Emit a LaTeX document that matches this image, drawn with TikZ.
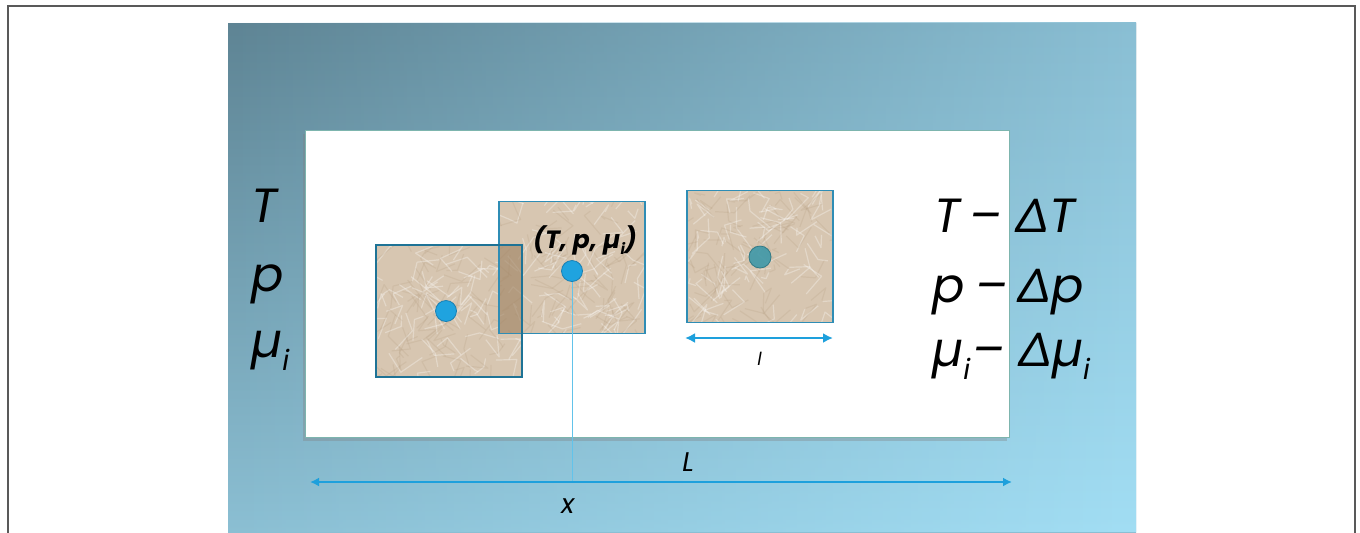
\documentclass[tikz,border=0pt]{standalone}
\usepackage{fontspec}
\setmainfont{Poppins}
\usetikzlibrary{arrows.meta,shadows,fadings}
\definecolor{paneltl}{HTML}{5E8494}
\definecolor{panelbl}{HTML}{8BBFD3}
\definecolor{paneltr}{HTML}{8ABFD4}
\definecolor{panelbr}{HTML}{A2DEF4}
\definecolor{paper}{HTML}{D7C6B1}
\definecolor{paperdark}{HTML}{9C7F5E}
\definecolor{edge}{HTML}{1E7396}
\definecolor{edgelight}{HTML}{2F8DB5}
\definecolor{dotblue}{HTML}{1FA3DF}
\definecolor{dotedge}{HTML}{1A7FB2}
\definecolor{dotteal}{HTML}{3F98A8}
\definecolor{arrowblue}{HTML}{1EA0DC}
\definecolor{thinblue}{HTML}{62C3EA}
\definecolor{stageedge}{HTML}{7DB5AE}
\newcommand\mysub[1]{\raisebox{-0.28em}{\fontsize{14}{14}\selectfont #1}}
\newcommand\crumple[1]{%
  \begin{scope}
    \clip (#1.south west) rectangle (#1.north east);
    \foreach \k in {1,...,70}{%
      \pgfmathsetmacro\ax{rnd*150}%
      \pgfmathsetmacro\ay{rnd*136}%
      \pgfmathsetmacro\bx{rand*22}%
      \pgfmathsetmacro\by{rand*22}%
      \pgfmathsetmacro\cx{rand*22}%
      \pgfmathsetmacro\cy{rand*22}%
      \draw[white,opacity=.3,line width=0.6pt,line join=round] ([shift={(\ax,\ay)}]#1.north west) -- ++(\bx,\by) -- ++(\cx,\cy);
      \draw[paperdark,opacity=.12,line width=0.6pt,line join=round] ([shift={(\ay,\ax)}]#1.north west) -- ++(\by,\bx) -- ++(\cy,\cx);
    }
  \end{scope}}
\begin{document}
\begin{tikzpicture}[x=0.5pt,y=-0.5pt,
  sqbox/.style={minimum width=73pt,minimum height=66pt,inner sep=0pt,outer sep=0pt},
  dotstyle/.style={circle,fill=dotblue,draw=dotedge,line width=0.4pt,minimum size=10.5pt,inner sep=0pt},
  bigtxt/.style={font=\fontsize{24}{30}\selectfont\itshape,inner sep=0pt,anchor=base west},
  smalltxt/.style={inner sep=0pt,anchor=base west},
  dim/.style={draw=arrowblue,line width=1.1pt,{Latex[length=4.5pt,width=4.5pt]}-{Latex[length=4.5pt,width=4.5pt]}}
]
\pgfmathsetseed{11}
\clip (0,0) rectangle (1360,532);
\fill[white] (0,0) rectangle (1360,532);
\draw[gray!70!black,line width=0.8pt] (8,6) rectangle (1355,560);
\shade[top color=paneltl,bottom color=panelbl] (228,23) rectangle (1136,532);
\shade[top color=paneltr,bottom color=panelbr,path fading=west] (228,23) rectangle (1136,532);
% stage
\node[draw=stageedge,line width=0.4pt,fill=white,minimum width=352pt,minimum height=153.5pt,inner sep=0pt,
  drop shadow={shadow xshift=-1.2pt,shadow yshift=-2pt,opacity=.35}] (stage) at (657,283.5) {};
% squares
\node[sqbox,fill=paper] (lsq) at (449,311) {};
\crumple{lsq}
\node[sqbox,fill=paper] (msq) at (572,267.5) {};
\crumple{msq}
\fill[paperdark,opacity=.6] (msq.west |- lsq.north) rectangle (lsq.east |- msq.south);
\node[sqbox,fill=paper] (rsq) at (760,256.5) {};
\crumple{rsq}
\draw[edgelight,line width=0.8pt] (msq.south west) rectangle (msq.north east);
\draw[edge,line width=1.3pt] (lsq.south west) rectangle (lsq.north east);
\draw[edgelight,line width=0.8pt] (rsq.south west) rectangle (rsq.north east);
% dots
\node[dotstyle] (ldot) at (446,311) {};
\node[dotstyle] (mdot) at (572,271) {};
\node[dotstyle,fill=dotteal,fill opacity=.9,draw=dotteal!80!black,minimum size=11pt] (rdot) at (760,257) {};
% label in middle square
\node[inner sep=0pt,anchor=base,font=\fontsize{12.5}{14}\selectfont\bfseries\itshape] (tpm) at (585,248) {(T, p, µ\raisebox{-0.25em}{\fontsize{7.5}{8}\selectfont i})};
% dimension arrows
\coordinate (Lw) at (310,482);
\coordinate (Le) at (1012,482);
\draw[thinblue,line width=0.5pt] (mdot.south) -- (mdot.south |- Lw);
\draw[dim] (Lw) -- (Le);
\node[smalltxt,font=\fontsize{13.5}{14}\selectfont\itshape] (Llab) at (682,471) {L};
\node[smalltxt,font=\fontsize{13.5}{14}\selectfont\itshape] (xlab) at (561,513) {x};
\coordinate (lw) at (685,338);
\coordinate (le) at (833,338);
\draw[dim,line width=1pt,{Latex[length=5pt,width=5pt]}-{Latex[length=5pt,width=5pt]}] (lw) -- (le);
\node[smalltxt,font=\fontsize{9}{10}\selectfont\itshape] (llab) at (757,365) {l};
% left labels
\node[bigtxt] (lT) at (251,222) {T};
\node[bigtxt] (lp) at (251,291) {p};
\node[bigtxt] (lmu) at (251,357) {µ\mysub{i}};
% right labels
\node[bigtxt] (rT) at (934,232) {T\hspace{0.2em}–\hspace{0.3em}∆T};
\node[bigtxt] (rp) at (932,302) {p\hspace{0.22em}–\hspace{0.22em}∆p};
\node[bigtxt] (rmu) at (932,366) {µ\mysub{i}\hspace{0.05em}–\hspace{0.3em}∆µ\mysub{i}};
\end{tikzpicture}
\end{document}
